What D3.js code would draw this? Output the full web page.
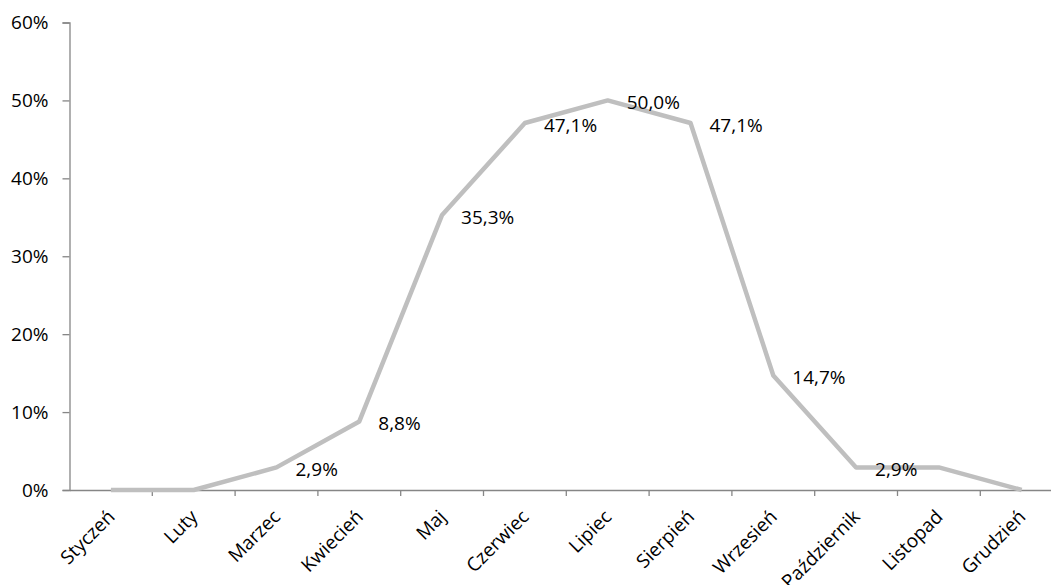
<!DOCTYPE html>
<html>
<head>
<meta charset="utf-8">
<script src="https://cdn.jsdelivr.net/npm/d3@7"></script>
<style>
  body { margin: 0; background: #fff; }
  svg text { font-family: 'Open Sans', sans-serif; fill: #000; }
</style>
</head>
<body>
<div id="chart"></div>
<script>
// Data
var months = ['Styczeń', 'Luty', 'Marzec', 'Kwiecień', 'Maj', 'Czerwiec', 'Lipiec',
              'Sierpień', 'Wrzesień', 'Październik', 'Listopad', 'Grudzień'];
var values = [0, 0, 2.9, 8.8, 35.3, 47.1, 50.0, 47.1, 14.7, 2.9, 2.9, 0];
var showLabel = [false, false, true, true, true, true, true, true, true, true, false, false];
var yTicks = [0, 10, 20, 30, 40, 50, 60];

var width = 1051, height = 585;
var margin = {top: 22.5, left: 69.5, bottom: 95};
var fontSize = '19px';

var svg = d3.select('#chart').append('svg')
    .attr('width', width)
    .attr('height', height);

var x = d3.scaleBand()
    .domain(months)
    .range([margin.left, margin.left + 82.8 * months.length]);

var y = d3.scaleLinear()
    .domain([0, 60])
    .range([height - margin.bottom, margin.top]);

var pct = v => d3.format('.1f')(v).replace('.', ',') + '%';
var cx = m => x(m) + x.bandwidth() / 2;

var points = months.map((m, i) => ({month: m, value: values[i], label: showLabel[i]}));

// y axis
var yAxis = svg.append('g')
    .attr('transform', 'translate(' + margin.left + ',0)')
    .call(d3.axisLeft(y).tickValues(yTicks).tickSize(7).tickPadding(14).tickFormat(d => d + '%'));
yAxis.select('.domain').attr('stroke', '#868686').attr('stroke-width', 1.3);
yAxis.selectAll('.tick line').attr('stroke', '#868686').attr('stroke-width', 1.3);
yAxis.selectAll('.tick text')
    .attr('fill', '#000')
    .style('font-size', fontSize)
    .style('font-family', 'Open Sans');

// x axis
var xAxis = svg.append('g')
    .attr('transform', 'translate(0,' + y(0) + ')')
    .call(d3.axisBottom(x).tickSize(0).tickFormat(''));
xAxis.select('.domain').attr('stroke', '#868686').attr('stroke-width', 1.3);

// tick marks between categories
svg.append('g').selectAll('line')
    .data(months.slice(1))
    .enter()
    .append('line')
    .attr('x1', d => x(d))
    .attr('x2', d => x(d))
    .attr('y1', y(0))
    .attr('y2', y(0) + 6)
    .attr('stroke', '#868686')
    .attr('stroke-width', 1.3);

// category labels
svg.append('g').selectAll('text')
    .data(months)
    .enter()
    .append('text')
    .attr('transform', d => 'translate(' + (cx(d) + 5) + ',' + (y(0) + 28) + ') rotate(-45)')
    .attr('text-anchor', 'end')
    .style('font-size', fontSize)
    .text(d => d);

// line
var line = d3.line()
    .x(d => cx(d.month))
    .y(d => y(d.value));

svg.append('path')
    .datum(points)
    .attr('d', line)
    .attr('fill', 'none')
    .attr('stroke', '#bfbfbf')
    .attr('stroke-width', 4.5)
    .attr('stroke-linejoin', 'round');

// data labels
svg.append('g').selectAll('text')
    .data(points.filter(d => d.label))
    .enter()
    .append('text')
    .attr('x', d => cx(d.month) + 19)
    .attr('y', d => y(d.value) + 2)
    .attr('dy', '0.35em')
    .style('font-size', fontSize)
    .text(d => pct(d.value));
</script>
</body>
</html>
